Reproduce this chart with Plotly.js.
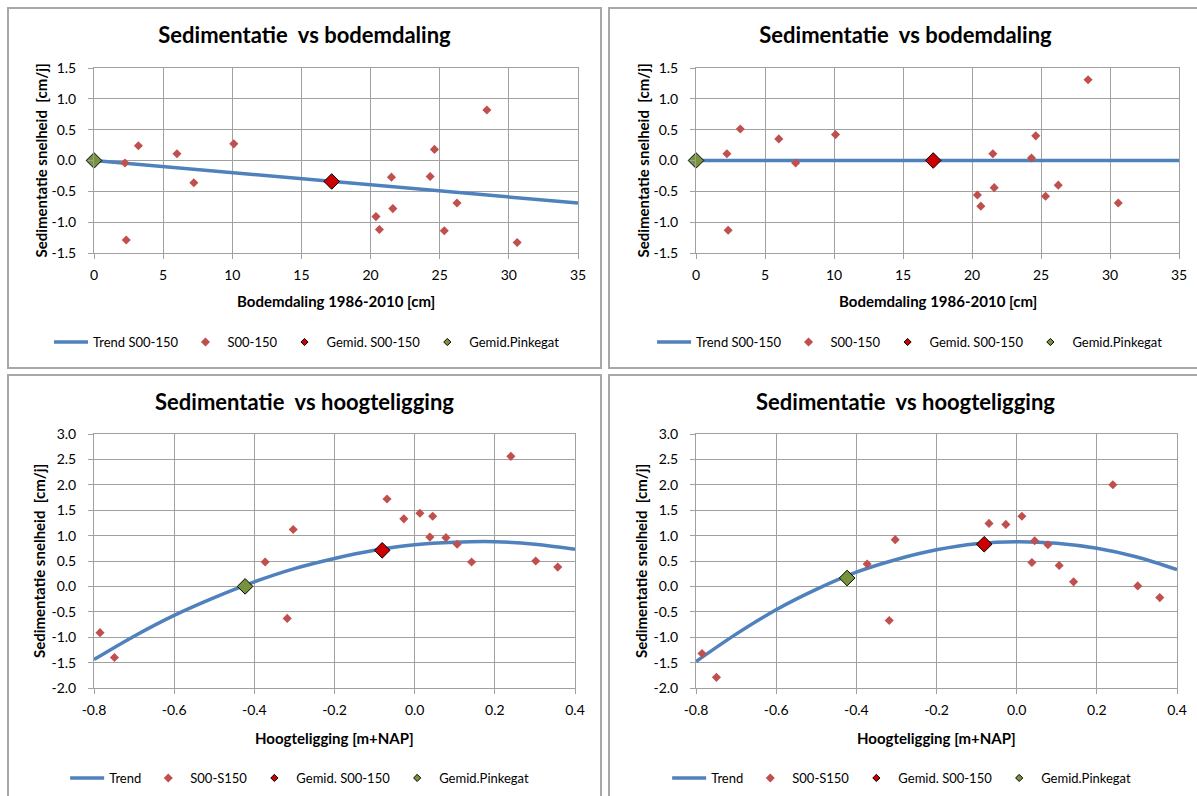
<!DOCTYPE html>
<html><head><meta charset="utf-8">
<script src="https://cdn.plot.ly/plotly-3.0.1.min.js"></script>
<style>
html,body{margin:0;padding:0;background:#fff;width:1197px;height:796px;overflow:hidden;position:relative}
.plot{position:absolute}
.frame{position:absolute;box-sizing:border-box;border:2px solid #a8a8a8;pointer-events:none;z-index:5}
</style></head><body>
<div id="p1" class="plot" style="left:7px;top:7px;width:595px;height:362px"></div>
<div id="p2" class="plot" style="left:608px;top:7px;width:595px;height:362px"></div>
<div id="p3" class="plot" style="left:7px;top:374px;width:595px;height:430px"></div>
<div id="p4" class="plot" style="left:608px;top:374px;width:595px;height:430px"></div>
<div class="frame" style="left:7px;top:7px;width:595px;height:362px"></div>
<div class="frame" style="left:608px;top:7px;width:595px;height:362px"></div>
<div class="frame" style="left:7px;top:374px;width:595px;height:430px"></div>
<div class="frame" style="left:608px;top:374px;width:595px;height:430px"></div>
<script>
// ---------- Data ----------
// Top panels: Sedimentatie vs bodemdaling
const bodemX = [2.24, 3.21, 2.33, 6.0, 7.22, 10.11, 20.39, 20.64, 21.51, 21.61, 24.31, 24.62, 25.33, 26.25, 28.41, 30.60];
const sed1Y = [-0.04, 0.24, -1.29, 0.11, -0.36, 0.27, -0.91, -1.12, -0.27, -0.78, -0.26, 0.18, -1.14, -0.69, 0.82, -1.33];
const sed2Y = [0.11, 0.51, -1.13, 0.35, -0.04, 0.42, -0.56, -0.74, 0.11, -0.44, 0.04, 0.40, -0.58, -0.40, 1.31, -0.69];
const trend1X = [0, 35];
const trend1Y = [0, -0.69];
const trend2X = [0, 35];
const trend2Y = [0, 0];
const gemid1X = [17.19], gemid1Y = [-0.34];
const gemid2X = [17.19], gemid2Y = [0];
const pinke1X = [0], pinke1Y = [0];
const pinke2X = [0], pinke2Y = [0];

// Bottom panels: Sedimentatie vs hoogteligging
const hoogteX = [-0.785, -0.749, -0.373, -0.318, -0.303, -0.069, -0.027, 0.013, 0.045, 0.038, 0.078, 0.106, 0.142, 0.240, 0.302, 0.357];
const sed3Y = [-0.91, -1.40, 0.48, -0.63, 1.12, 1.72, 1.33, 1.44, 1.38, 0.97, 0.96, 0.83, 0.48, 2.56, 0.50, 0.38];
const sed4Y = [-1.32, -1.79, 0.44, -0.67, 0.92, 1.24, 1.22, 1.38, 0.90, 0.47, 0.82, 0.41, 0.09, 2.00, 0.01, -0.22];
const trendHX = [-0.8, -0.7, -0.6, -0.5, -0.4, -0.3, -0.2, -0.1, 0.0, 0.1, 0.2, 0.3, 0.4];
const trend3Y = [-1.44, -0.98, -0.57, -0.22, 0.09, 0.35, 0.55, 0.71, 0.82, 0.87, 0.88, 0.83, 0.73];
const trend4Y = [-1.48, -0.94, -0.46, -0.06, 0.28, 0.53, 0.72, 0.84, 0.88, 0.85, 0.75, 0.58, 0.33];
const gemid3X = [-0.081], gemid3Y = [0.71];
const gemid4X = [-0.081], gemid4Y = [0.83];
const pinke3X = [-0.423], pinke3Y = [0.0];
const pinke4X = [-0.423], pinke4Y = [0.165];

// Tick labels
const bodemTicks = [0, 5, 10, 15, 20, 25, 30, 35];
const bodemTickText = ["0", "5", "10", "15", "20", "25", "30", "35"];
const sedTopTicks = [-1.5, -1.0, -0.5, 0, 0.5, 1.0, 1.5];
const sedTopTickText = ["-1.5", "-1.0", "-0.5", "0.0", "0.5", "1.0", "1.5"];
const hoogteTicks = [-0.8, -0.6, -0.4, -0.2, 0, 0.2, 0.4];
const hoogteTickText = ["-0.8", "-0.6", "-0.4", "-0.2", "0.0", "0.2", "0.4"];
const sedBotTicks = [-2.0, -1.5, -1.0, -0.5, 0, 0.5, 1.0, 1.5, 2.0, 2.5, 3.0];
const sedBotTickText = ["-2.0", "-1.5", "-1.0", "-0.5", "0.0", "0.5", "1.0", "1.5", "2.0", "2.5", "3.0"];

const titleTop = "Sedimentatie  vs bodemdaling";
const titleBot = "Sedimentatie  vs hoogteligging";
const yTitle = "Sedimentatie snelheid  [cm/j]";
const xTitleTop = "Bodemdaling 1986-2010 [cm]";
const xTitleBot = "Hoogteligging [m+NAP]";
const namesTop = ["Trend S00-150", "S00-150", "Gemid. S00-150", "Gemid.Pinkegat"];
const namesBot = ["Trend", "S00-S150", "Gemid. S00-150", "Gemid.Pinkegat"];

// ---------- Styling ----------
const FONT = "Lato, 'Open Sans', sans-serif";
const C_TREND = "#4F81BD", C_PTS = "#C0504D", C_MEAN = "#CC0000", C_PINK = "#77933C";
const GRID = "#a0a0a0";

function traces(tx, ty, px, py, mx, my, kx, ky, names, spline) {
  return [
    {type: "scatter", mode: "lines", x: tx, y: ty, name: names[0],
     line: {color: C_TREND, width: 3.5, shape: spline ? "spline" : "linear"}},
    {type: "scatter", mode: "markers", x: px, y: py, name: names[1], cliponaxis: false,
     marker: {symbol: "diamond", size: 7, color: C_PTS}},
    {type: "scatter", mode: "markers", x: mx, y: my, name: names[2], showlegend: false, cliponaxis: false,
     marker: {symbol: "diamond", size: 12, color: C_MEAN, line: {color: "#000", width: 1}}},
    {type: "scatter", mode: "markers", x: kx, y: ky, name: names[3], showlegend: false, cliponaxis: false,
     marker: {symbol: "diamond", size: 12, color: C_PINK, line: {color: "#000", width: 1}}},
    {type: "scatter", mode: "markers", x: [null], y: [null], name: names[2],
     marker: {symbol: "diamond", size: 5.5, color: C_MEAN, line: {color: "#000", width: 1}}},
    {type: "scatter", mode: "markers", x: [null], y: [null], name: names[3],
     marker: {symbol: "diamond", size: 5.5, color: C_PINK, line: {color: "#000", width: 1}}}
  ];
}

function axis(range, tv, tt) {
  return {range: range, tickvals: tv, ticktext: tt, showgrid: true, gridcolor: GRID, gridwidth: 1,
    zeroline: false, showline: true, mirror: true, linecolor: GRID, linewidth: 1,
    ticks: "outside", ticklen: 5, tickcolor: GRID, tickwidth: 1,
    tickfont: {family: FONT, size: 14, color: "#000"}, fixedrange: true};
}

function layout(o) {
  const plotH = o.H - o.t - o.b;
  return {
    width: 595, height: o.H,
    margin: {l: o.l, r: o.r, t: o.t, b: o.b, pad: 0},
    paper_bgcolor: "rgba(0,0,0,0)", plot_bgcolor: "#fff",
    font: {family: FONT, color: "#000"},
    title: {text: o.title, x: 0.5, xref: "container", xanchor: "center",
            y: 1 - 28 / o.H, yref: "container", yanchor: "middle",
            font: {family: FONT, size: 22, weight: "bold", color: "#000"}},
    xaxis: Object.assign(axis(o.xr, o.xtv, o.xtt), {ticklabelstandoff: 4}),
    yaxis: Object.assign(axis(o.yr, o.ytv, o.ytt), {ticklabelstandoff: 9}),
    showlegend: true,
    legend: {orientation: "h", x: o.legX, xanchor: "left", y: -o.legDy / plotH, yanchor: "middle",
             font: {family: FONT, size: 13, color: "#000"}, bgcolor: "rgba(0,0,0,0)", borderwidth: 0,
             itemwidth: 34, traceorder: "normal"},
    annotations: [
      {text: "<b>" + o.xtitle + "</b>", xref: "paper", yref: "paper", x: 0.5, y: 0,
       xanchor: "center", yanchor: "middle", yshift: -o.xtDy, showarrow: false,
       font: {family: FONT, size: 15, color: "#000"}},
      {text: "<b>" + yTitle + "</b>", xref: "paper", yref: "paper", x: 0, y: 0.5,
       xanchor: "center", yanchor: "middle", xshift: -o.ytDx, textangle: -90, showarrow: false,
       font: {family: FONT, size: 15, color: "#000"}}
    ],
    hovermode: false
  };
}

const cfg = {staticPlot: true, displayModeBar: false};

Plotly.newPlot("p1", traces(trend1X, trend1Y, bodemX, sed1Y, gemid1X, gemid1Y, pinke1X, pinke1Y, namesTop, false),
  layout({H: 362, l: 87, r: 24, t: 61, b: 112, title: titleTop, xr: [0, 35], xtv: bodemTicks, xtt: bodemTickText,
          yr: [-1.5, 1.5], ytv: sedTopTicks, ytt: sedTopTickText, legX: -0.093, legDy: 91, xtDy: 47.5, ytDx: 54,
          xtitle: xTitleTop}), cfg);
Plotly.newPlot("p2", traces(trend2X, trend2Y, bodemX, sed2Y, gemid2X, gemid2Y, pinke2X, pinke2Y, namesTop, false),
  layout({H: 362, l: 88, r: 24, t: 61, b: 112, title: titleTop, xr: [0, 35], xtv: bodemTicks, xtt: bodemTickText,
          yr: [-1.5, 1.5], ytv: sedTopTicks, ytt: sedTopTickText, legX: -0.091, legDy: 91, xtDy: 47.5, ytDx: 54,
          xtitle: xTitleTop}), cfg);
Plotly.newPlot("p3", traces(trendHX, trend3Y, hoogteX, sed3Y, gemid3X, gemid3Y, pinke3X, pinke3Y, namesBot, true),
  layout({H: 430, l: 87, r: 27, t: 60, b: 115, title: titleBot, xr: [-0.8, 0.4], xtv: hoogteTicks, xtt: hoogteTickText,
          yr: [-2, 3], ytv: sedBotTicks, ytt: sedBotTickText, legX: -0.060, legDy: 89, xtDy: 49.5, ytDx: 55,
          xtitle: xTitleBot}), cfg);
Plotly.newPlot("p4", traces(trendHX, trend4Y, hoogteX, sed4Y, gemid4X, gemid4Y, pinke4X, pinke4Y, namesBot, true),
  layout({H: 430, l: 88, r: 26, t: 60, b: 115, title: titleBot, xr: [-0.8, 0.4], xtv: hoogteTicks, xtt: hoogteTickText,
          yr: [-2, 3], ytv: sedBotTicks, ytt: sedBotTickText, legX: -0.060, legDy: 89, xtDy: 49.5, ytDx: 55,
          xtitle: xTitleBot}), cfg);
</script>
</body></html>
